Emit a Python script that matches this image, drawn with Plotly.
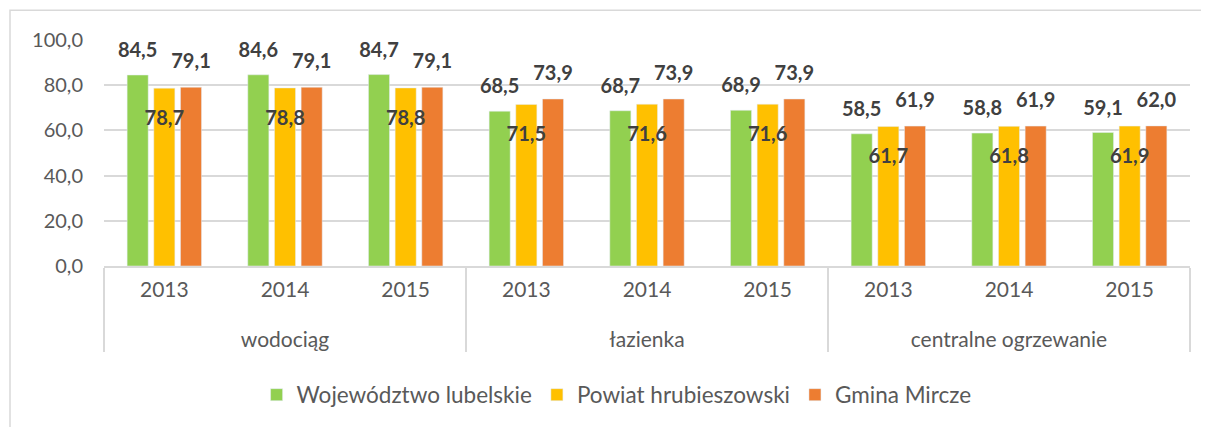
import plotly.graph_objects as go

categories = ["wodociąg", "łazienka", "centralne ogrzewanie"]
years = ["2013", "2014", "2015"]
series_names = ["Województwo lubelskie", "Powiat hrubieszowski", "Gmina Mircze"]
woj = [84.5, 84.6, 84.7, 68.5, 68.7, 68.9, 58.5, 58.8, 59.1]
pow_ = [78.7, 78.8, 78.8, 71.5, 71.6, 71.6, 61.7, 61.8, 61.9]
gmina = [79.1, 79.1, 79.1, 73.9, 73.9, 73.9, 61.9, 61.9, 62.0]
colors = ["#92D050", "#FFC000", "#ED7D31"]

outer = ["<br>" + c for c in categories for _ in years]
inner = [y for _ in categories for y in years]
x = [outer, inner]

def fmt(v):
    return f"{v:.1f}".replace(".", ",")

FONT = "Lato, 'Open Sans', sans-serif"
label_font = dict(family=FONT, size=20, color="#404040", weight="bold")

series = [woj, pow_, gmina]
fig = go.Figure()
for name, vals, col in zip(series_names, series, colors):
    fig.add_trace(go.Bar(x=x, y=vals, name=name, marker_color=col, hoverinfo="skip"))

# value labels (green/orange above, yellow below the bar top)
label_pos = ["top center", "bottom center", "top center"]
label_size = [19, 33, 21]
for vals, pos, sz in zip(series, label_pos, label_size):
    fig.add_trace(go.Scatter(
        x=x, y=vals, mode="markers+text", text=[fmt(v) for v in vals],
        textposition=pos, textfont=label_font,
        marker=dict(size=sz, opacity=0), showlegend=False, cliponaxis=False,
        hoverinfo="skip",
    ))

fig.update_layout(
    width=1201, height=419,
    margin=dict(l=96, r=19, t=32, b=160),
    paper_bgcolor="white", plot_bgcolor="white",
    separators=", ",
    barmode="group", bargap=0.337, bargroupgap=0.21,
    scattermode="group", scattergap=0.337,
    font=dict(family=FONT, size=21, color="#595959"),
    showlegend=True,
    legend=dict(orientation="h", x=0.472, xanchor="center", y=-0.564, yanchor="middle",
                font=dict(family=FONT, size=22.5, color="#595959"), tracegroupgap=0),
    shapes=[dict(type="rect", xref="paper", yref="paper",
                 x0=(2 - 96) / 1086, x1=1.2, y0=-1.5, y1=(259 - 2) / 227,
                 line=dict(color="#D9D9D9", width=1.5), fillcolor="rgba(0,0,0,0)", layer="below")],
)
fig.update_yaxes(range=[0, 100], dtick=20, tickformat=".1f", showgrid=True,
                 gridcolor="#D9D9D9", gridwidth=1.5, zeroline=False, showline=False,
                 ticks="", ticklabelstandoff=20,
                 tickfont=dict(family=FONT, size=20, color="#595959"))
fig.update_xaxes(type="multicategory", showline=True, linecolor="#D9D9D9", linewidth=1.5,
                 showdividers=True, dividercolor="#D9D9D9", dividerwidth=1.5,
                 ticks="outside", ticklen=8, tickcolor="rgba(0,0,0,0)", ticklabelstandoff=4,
                 tickfont=dict(family=FONT, size=21, color="#595959"))

fig.write_html("out.html")
